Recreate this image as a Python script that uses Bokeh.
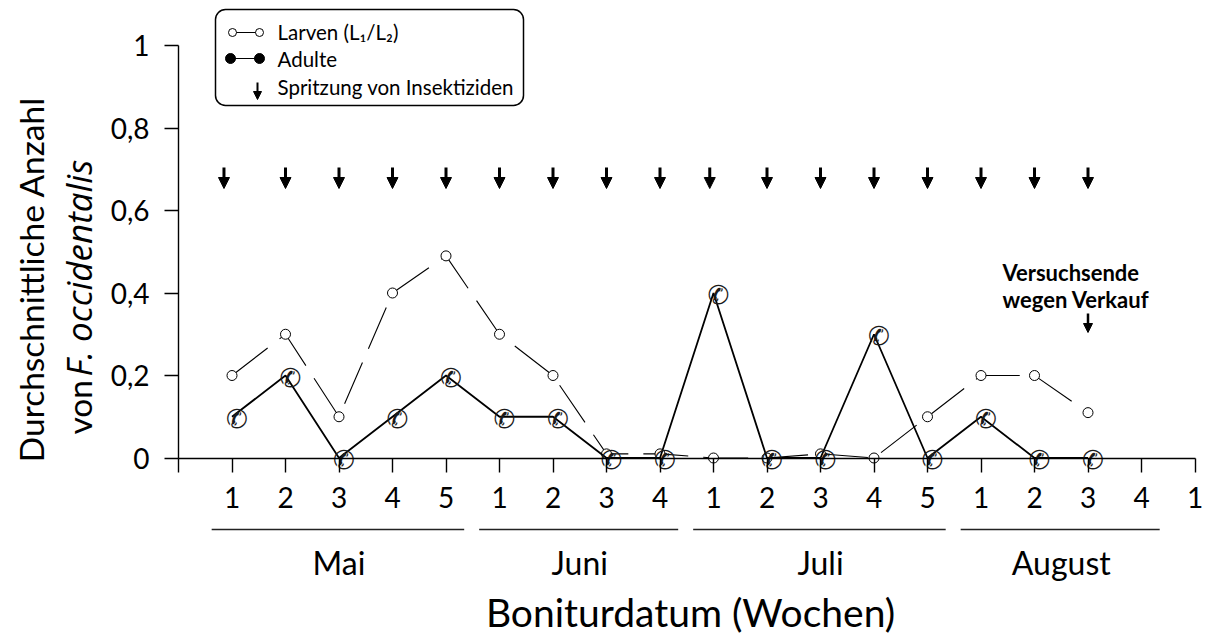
import math

from bokeh.core.properties import value
from bokeh.embed import file_html
from bokeh.models import (Arrow, BoxAnnotation, ColumnDataSource, FixedTicker,
                          Label, LinearAxis, NormalHead, Range1d)
from bokeh.plotting import figure
from bokeh.resources import INLINE

FONT = "Lato"
W, H = 1210, 637

# ---------------------------------------------------------------- data
# x positions count weeks from the first week of May (1) onwards
week_labels = ["1", "2", "3", "4", "5",        # Mai
               "1", "2", "3", "4",             # Juni
               "1", "2", "3", "4", "5",        # Juli
               "1", "2", "3", "4",             # August
               "1"]                            # September
months = ["Mai", "Juni", "Juli", "August"]
month_first_week = [1, 6, 10, 15]
month_last_week = [5, 9, 14, 18]

sample_week = [1, 2, 3, 4, 5, 6, 7, 8, 9, 10, 11, 12, 13, 14, 15, 16, 17]
larvae = [0.20, 0.30, 0.10, 0.40, 0.49, 0.30, 0.20, 0.01, 0.01,
          0.00, 0.00, 0.01, 0.00, 0.10, 0.20, 0.20, 0.11]
adults = [0.10, 0.20, 0.00, 0.10, 0.20, 0.10, 0.10, 0.00, 0.00,
          0.40, 0.00, 0.00, 0.30, 0.00, 0.10, 0.00, 0.00]

spray_week = [0.85, 2, 3, 4, 5, 6, 7, 8, 9, 9.93, 11, 12, 13, 14, 15, 16, 17]
end_week = [17]

y_ticks = [0, 0.2, 0.4, 0.6, 0.8, 1]
y_tick_labels = ["0", "0,2", "0,4", "0,6", "0,8", "1"]

# ---------------------------------------------------------------- geometry
X0_PX = 178.0     # pixel column of week 0 (the y axis)
WEEK_PX = 53.5    # pixels per week
Y0_PX = 457.5     # pixel row of value 0 (the x axis)
UNIT_PX = 412.5   # pixels per unit on the y axis


def dx(px):
    return (px - X0_PX) / WEEK_PX


def dy(py):
    return (Y0_PX - py) / UNIT_PX


p = figure(width=W, height=H, output_backend="svg", toolbar_location=None,
           x_range=Range1d(dx(0), dx(W)), y_range=Range1d(dy(H), dy(0)),
           x_axis_type=None, y_axis_type=None, min_border=0,
           outline_line_color=None, background_fill_color="white")

# ---------------------------------------------------------------- axes
axis_style = dict(axis_line_color="black", axis_line_width=1.4,
                  major_tick_line_color="black", major_tick_line_width=1.4,
                  major_tick_in=0, major_tick_out=14,
                  minor_tick_in=0, minor_tick_out=0,
                  major_label_text_font=FONT, major_label_text_font_size="28px",
                  major_label_text_color="black")

xaxis = LinearAxis(fixed_location=0, bounds=(0, len(week_labels)),
                   ticker=FixedTicker(ticks=list(range(len(week_labels) + 1))),
                   major_label_overrides={0: "", **{i + 1: s for i, s in enumerate(week_labels)}},
                   major_label_standoff=15, **axis_style)
p.add_layout(xaxis, "below")

yaxis = LinearAxis(fixed_location=0, bounds=(0, 1),
                   ticker=FixedTicker(ticks=y_ticks),
                   major_label_overrides=dict(zip(y_ticks, y_tick_labels)),
                   major_label_standoff=15, **axis_style)
p.add_layout(yaxis, "left")

# ---------------------------------------------------------------- series
src = ColumnDataSource(dict(week=sample_week, larvae=larvae, adults=adults,
                            sym=["\u2706"] * len(sample_week)))

p.line("week", "larvae", source=src, line_color="black", line_width=1.1,
       line_dash="45 15")
p.scatter("week", "larvae", source=src, marker="circle", size=10,
          fill_color="white", line_color="black", line_width=1)

p.line("week", "adults", source=src, line_color="black", line_width=1.8)
p.text("week", "adults", text="sym", source=src, x_offset=5, y_offset=2,
       text_font=value("DejaVu Sans"), text_font_size="26px",
       text_align="center", text_baseline="middle", text_color="#1a1a1a")

# spray dates
spray_src = ColumnDataSource(dict(x=spray_week,
                                  y0=[dy(167)] * len(spray_week),
                                  y1=[dy(188)] * len(spray_week)))
p.add_layout(Arrow(source=spray_src, x_start="x", y_start="y0", x_end="x", y_end="y1",
                   line_width=3, line_color="black",
                   end=NormalHead(size=11, fill_color="black", line_color="black")))

# end of the trial
end_src = ColumnDataSource(dict(x=end_week, y0=[dy(313)], y1=[dy(332)]))
p.add_layout(Arrow(source=end_src, x_start="x", y_start="y0", x_end="x", y_end="y1",
                   line_width=2.5, line_color="black",
                   end=NormalHead(size=9, fill_color="black", line_color="black")))
for txt, py in [("Versuchsende", 272), ("wegen Verkauf", 299)]:
    p.add_layout(Label(x=dx(1002), y=dy(py), text=txt, text_font=FONT,
                       text_font_style="bold", text_font_size="22px",
                       text_color="black",
                       text_align="left", text_baseline="middle"))

# ---------------------------------------------------------------- month brackets
mid = [(a + b) / 2 for a, b in zip(month_first_week, month_last_week)]
month_src = ColumnDataSource(dict(
    name=months, mid=mid,
    x0=[a - 0.38 for a in month_first_week], x1=[b + 0.34 for b in month_last_week],
    yl=[dy(529)] * len(months), yt=[dy(562)] * len(months)))
p.segment(x0="x0", x1="x1", y0="yl", y1="yl", source=month_src,
          line_color="#222222", line_width=1.4)
p.text(x="mid", y="yt", text="name", source=month_src, text_font=value(FONT),
       text_font_size="32px", text_align="center", text_baseline="middle",
       text_color="black")

# ---------------------------------------------------------------- axis titles
p.add_layout(Label(x=dx(690), y=dy(611), text="Boniturdatum (Wochen)",
                   text_font=FONT, text_font_size="39px", text_color="black",
                   text_align="center", text_baseline="middle"))
p.add_layout(Label(x=dx(30), y=dy(279), text="Durchschnittliche Anzahl",
                   angle=math.pi / 2, text_font=FONT, text_font_size="33.5px",
                   text_color="black",
                   text_align="center", text_baseline="middle"))
p.add_layout(Label(x=dx(78), y=dy(434), text="von",
                   angle=math.pi / 2, text_font=FONT, text_font_size="33.5px",
                   text_color="black",
                   text_align="left", text_baseline="middle"))
p.add_layout(Label(x=dx(78), y=dy(376), text="F. occidentalis",
                   angle=math.pi / 2, text_font="Open Sans", text_font_size="35px",
                   text_font_style="italic", text_color="black",
                   text_align="left", text_baseline="middle"))

# ---------------------------------------------------------------- legend
p.add_layout(BoxAnnotation(left=dx(215), right=dx(523), top=dy(9), bottom=dy(105),
                           fill_color="white", fill_alpha=1,
                           line_color="black", line_alpha=1, line_width=1.5,
                           border_radius=10, level="underlay"))
p.segment(x0=[dx(232), dx(230)], x1=[dx(259), dx(259)],
          y0=[dy(32), dy(58)], y1=[dy(32), dy(58)], line_color="black", line_width=1.2)
p.scatter(x=[dx(232), dx(259)], y=[dy(32), dy(32)], marker="circle", size=8,
          fill_color="white", line_color="black", line_width=1)
p.scatter(x=[dx(230), dx(259)], y=[dy(58), dy(58)], marker="circle", size=10,
          fill_color="black", line_color="black")
leg_arrow = ColumnDataSource(dict(x=[dx(257)], y0=[dy(82)], y1=[dy(99)]))
p.add_layout(Arrow(source=leg_arrow, x_start="x", y_start="y0", x_end="x", y_end="y1",
                   line_width=2, line_color="black",
                   end=NormalHead(size=8, fill_color="black", line_color="black")))
for txt, py in [("Larven (L\u2081/L\u2082)", 31), ("Adulte", 58),
                ("Spritzung von Insektiziden", 86)]:
    p.add_layout(Label(x=dx(277), y=dy(py), text=txt, text_font=FONT,
                       text_font_size="20.5px", text_color="black",
                       text_align="left", text_baseline="middle"))

open("out.html", "w").write(file_html(p, INLINE))
